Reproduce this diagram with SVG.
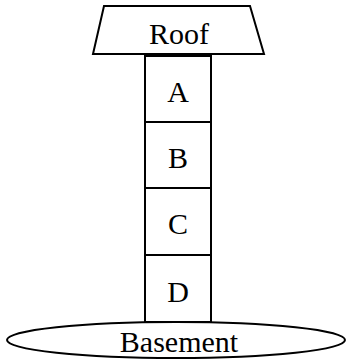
<svg xmlns="http://www.w3.org/2000/svg" width="347" height="360" viewBox="0 0 347 360">
<style>
.s{fill:#fff;stroke:#000;stroke-width:2}
text{font-family:"Liberation Serif","Times New Roman",serif;font-size:30px;fill:#000;text-anchor:middle}
</style>
<rect width="347" height="360" fill="#fff"/>
<g id="basement"><ellipse class="s" cx="176" cy="340" rx="169" ry="18"/><text x="179" y="352">Basement</text></g>
<g id="A"><rect class="s" x="145" y="56" width="66" height="66"/><text x="178" y="102">A</text></g>
<g id="B"><rect class="s" x="145" y="122" width="66" height="66"/><text x="178" y="168">B</text></g>
<g id="C"><rect class="s" x="145" y="188" width="66" height="67"/><text x="178" y="234">C</text></g>
<g id="D"><rect class="s" x="145" y="255" width="66" height="67"/><text x="178" y="302">D</text></g>
<g id="roof"><polygon class="s" points="104,6 250,6 264,54 93,54"/><text x="179" y="44">Roof</text></g>
<g id="connectors"></g>
</svg>
